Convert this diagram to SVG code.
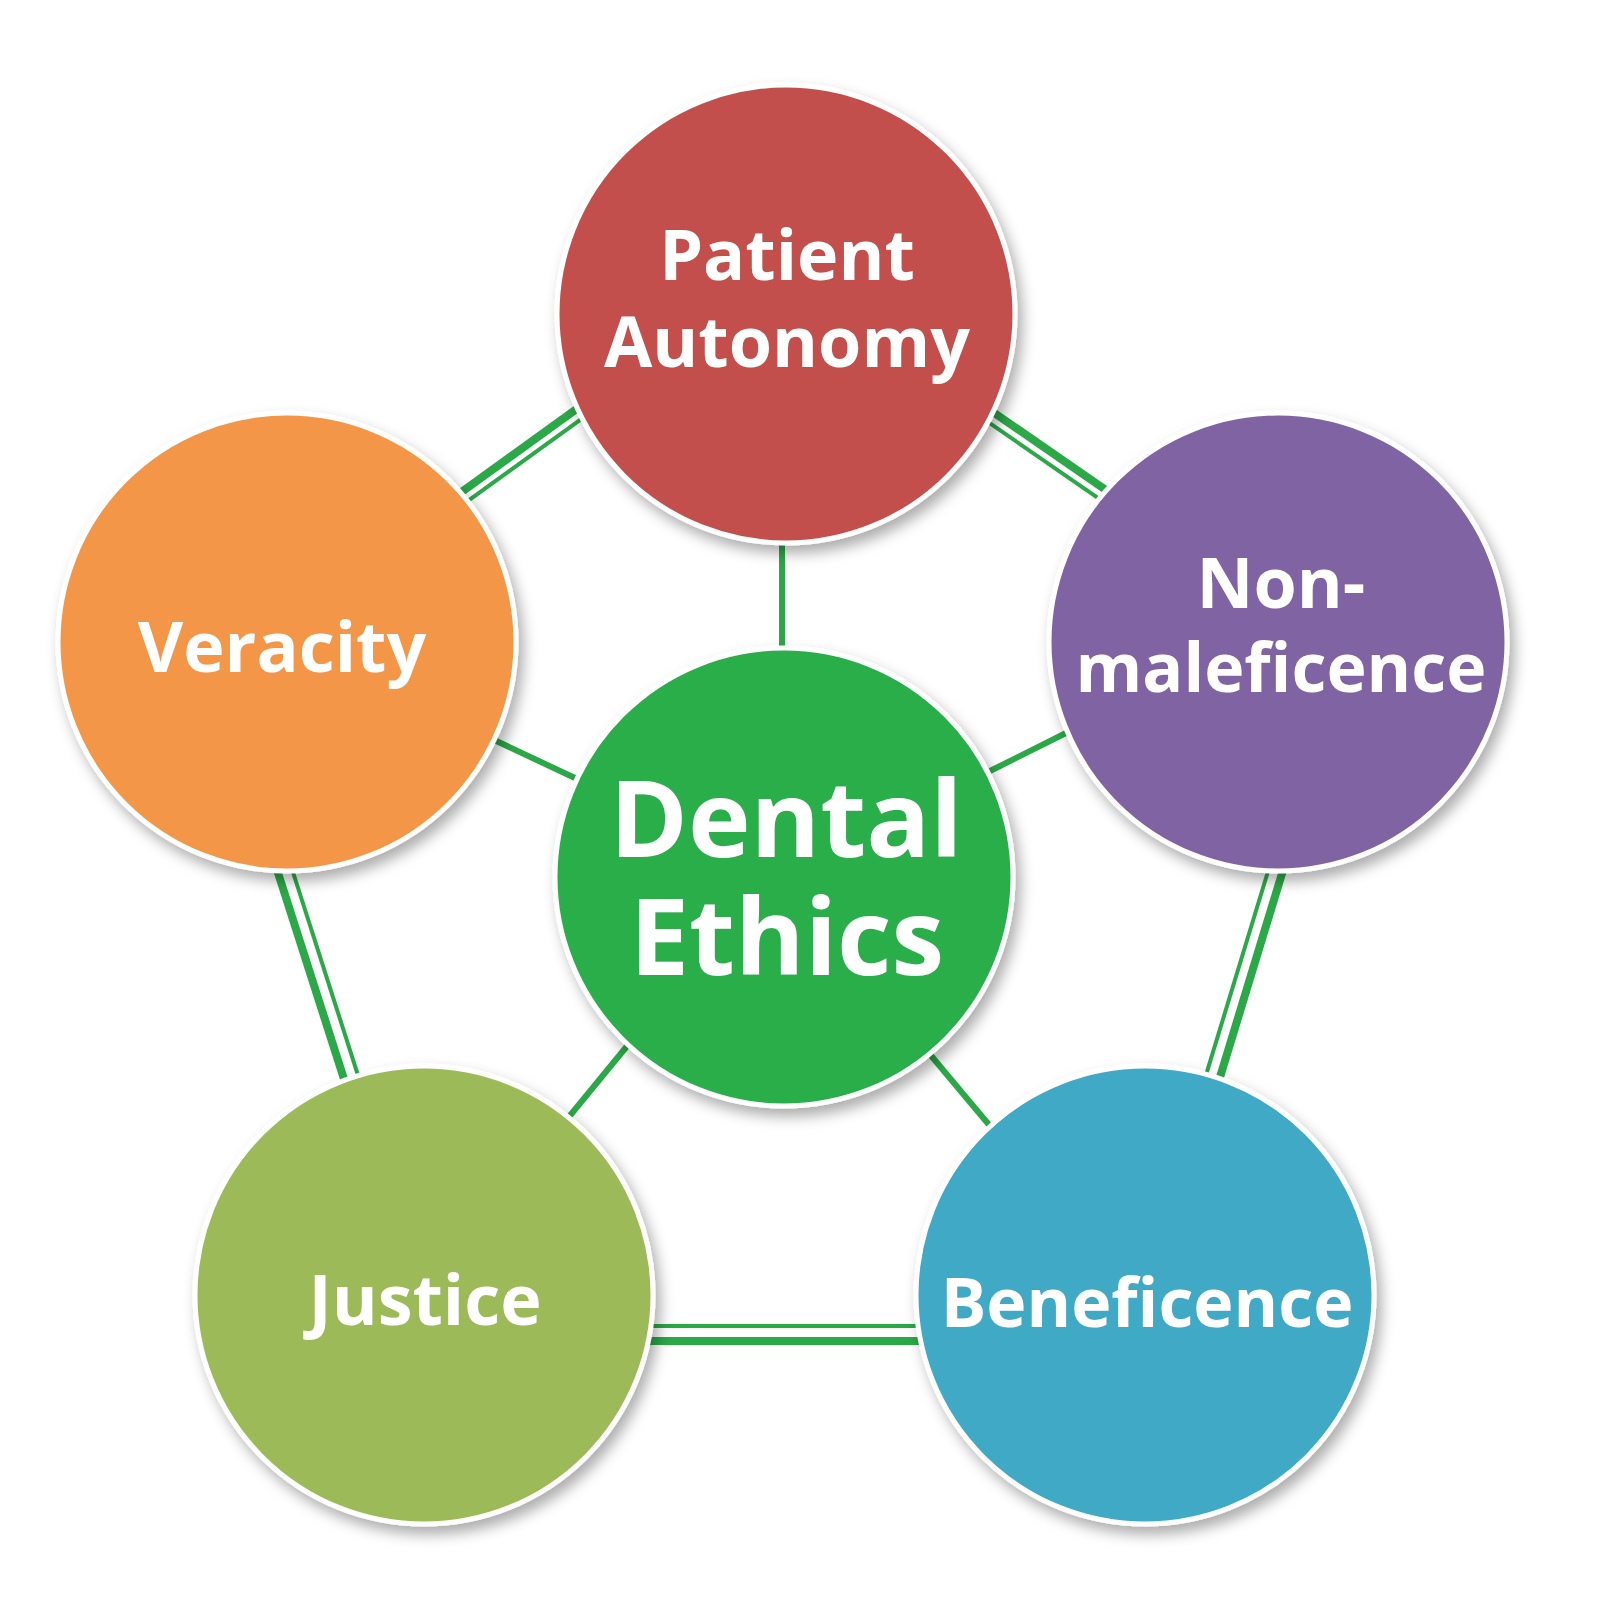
<svg xmlns="http://www.w3.org/2000/svg" width="1600" height="1600" viewBox="0 0 1600 1600">
  <defs>
    <filter id="shadow" x="-20%" y="-20%" width="150%" height="150%">
      <feDropShadow dx="5" dy="8" stdDeviation="7" flood-color="#000000" flood-opacity="0.32"/>
    </filter>
    <style>
      .node { stroke: #ffffff; stroke-width: 5; filter: url(#shadow); }
      .label { font-family: "Open Sans", "Noto Sans", "Liberation Sans", sans-serif; font-weight: 700; fill: #ffffff; text-anchor: middle; }
      .thick { stroke: #2BA847; stroke-width: 8; fill: none; }
      .thin { stroke: #2BA847; stroke-width: 4; fill: none; }
      .spoke { stroke: #2BA847; stroke-width: 6; fill: none; }
    </style>
  </defs>
  <rect x="0" y="0" width="1600" height="1600" fill="#ffffff"/>

  <g id="connectors">
    <!-- Patient Autonomy - Veracity -->
    <line class="thick" x1="420" y1="522" x2="607" y2="387"/>
    <line class="thin" x1="426.4" y1="530.9" x2="613.4" y2="395.9"/>
    <!-- Patient Autonomy - Non-maleficence -->
    <line class="thick" x1="964" y1="392" x2="1129" y2="506"/>
    <line class="thin" x1="957.8" y1="401.1" x2="1122.8" y2="515.1"/>
    <!-- Non-maleficence - Beneficence -->
    <line class="thick" x1="1297.5" y1="822.6" x2="1210" y2="1110"/>
    <line class="thin" x1="1284.1" y1="818.5" x2="1196.6" y2="1105.9"/>
    <!-- Veracity - Justice -->
    <line class="thick" x1="268.4" y1="842.9" x2="356.8" y2="1119"/>
    <line class="thin" x1="282.2" y1="838.5" x2="370.6" y2="1114.6"/>
    <!-- Justice - Beneficence -->
    <line class="thick" x1="600" y1="1341" x2="970" y2="1341"/>
    <line class="thin" x1="600" y1="1326" x2="970" y2="1326"/>
    <!-- spokes to Dental Ethics -->
    <line class="spoke" x1="782" y1="530" x2="782" y2="660"/>
    <line class="spoke" x1="490" y1="738" x2="575" y2="778"/>
    <line class="spoke" x1="990" y1="771" x2="1072" y2="730"/>
    <line class="spoke" x1="632" y1="1040" x2="568" y2="1118"/>
    <line class="spoke" x1="928" y1="1052" x2="990" y2="1126"/>
  </g>

  <g id="node-patient-autonomy">
    <circle class="node" cx="786" cy="314" r="229" fill="#C2504C"/>
    <text class="label" x="787" y="280" font-size="70">Patient</text>
    <text class="label" x="787" y="367" font-size="70">Autonomy</text>
  </g>

  <g id="node-veracity">
    <circle class="node" cx="287" cy="642" r="229" fill="#F49646"/>
    <text class="label" x="282" y="672" font-size="70">Veracity</text>
  </g>

  <g id="node-non-maleficence">
    <circle class="node" cx="1278" cy="642" r="229" fill="#7F64A2"/>
    <text class="label" x="1281" y="608" font-size="70">Non-</text>
    <text class="label" x="1281" y="692" font-size="68">maleficence</text>
  </g>

  <g id="node-dental-ethics">
    <circle class="node" cx="784" cy="877" r="229" fill="#2AAE4A"/>
    <text class="label" x="786" y="857" font-size="106">Dental</text>
    <text class="label" x="787" y="975" font-size="106">Ethics</text>
  </g>

  <g id="node-justice">
    <circle class="node" cx="424" cy="1295" r="229" fill="#9CBB58"/>
    <text class="label" x="425" y="1325" font-size="70">Justice</text>
  </g>

  <g id="node-beneficence">
    <circle class="node" cx="1145" cy="1295" r="229" fill="#3FA9C6"/>
    <text class="label" x="1147" y="1327" font-size="68">Beneficence</text>
  </g>
</svg>
